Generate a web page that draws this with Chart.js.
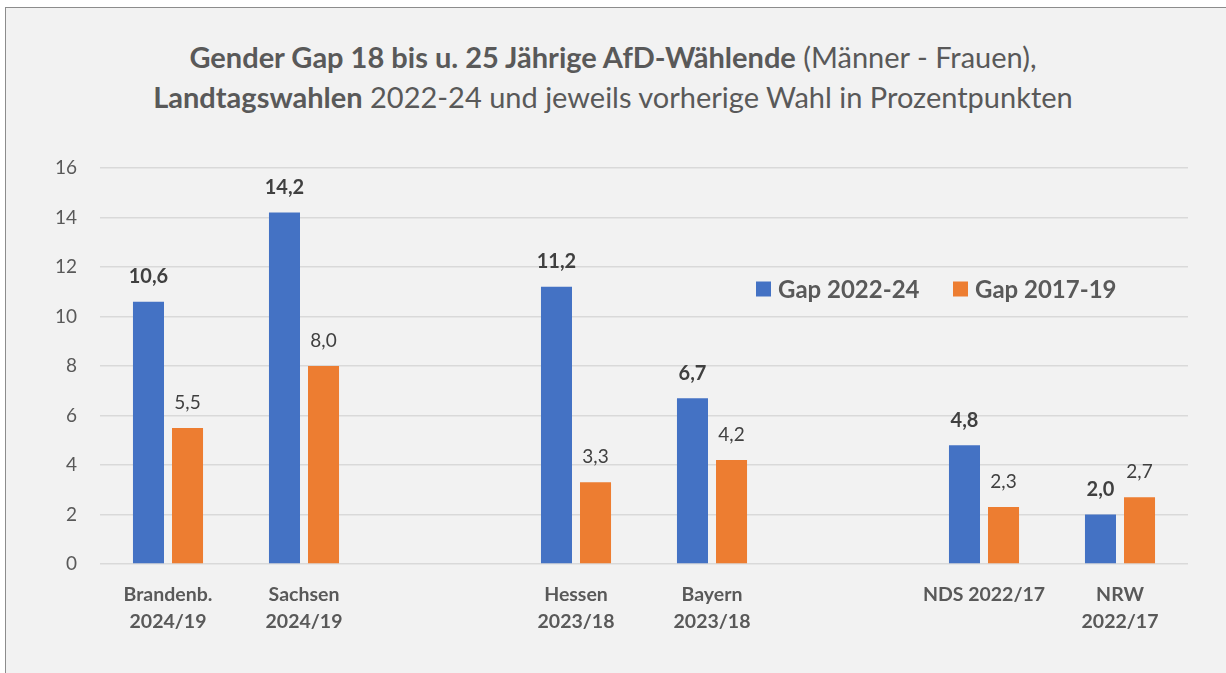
<!DOCTYPE html>
<html><head><meta charset="utf-8">
<script src="https://cdn.jsdelivr.net/npm/chart.js@4.4.1/dist/chart.umd.min.js"></script>
<style>
html,body{margin:0;padding:0;background:#fff;}
#panel{position:absolute;left:5px;top:7px;width:1225px;height:670px;background:#f2f2f2;border-left:1.5px solid #8c8c8c;border-top:1.5px solid #8c8c8c;}
#title{position:absolute;left:0;top:37px;width:1226px;text-align:center;font-family:Lato,sans-serif;font-size:29px;line-height:40px;color:#595959;}
#title b{font-weight:700;}
#wrap{position:absolute;left:0;top:0;width:1226px;height:673px;}
</style></head>
<body>
<div id="panel"></div>
<div id="title"><b>Gender Gap 18 bis u. 25 Jährige AfD-Wählende</b> (Männer - Frauen),<br><b>Landtagswahlen</b> 2022-24 und jeweils vorherige Wahl in Prozentpunkten</div>
<div id="wrap"><canvas id="c" width="1226" height="673"></canvas></div>
<script>
const categories = [['Brandenb.','2024/19'],['Sachsen','2024/19'],'',['Hessen','2023/18'],['Bayern','2023/18'],'',['NDS 2022/17'],['NRW','2022/17']];
const gap2022_24 = [10.6, 14.2, null, 11.2, 6.7, null, 4.8, 2.0];
const gap2017_19 = [5.5, 8.0, null, 3.3, 4.2, null, 2.3, 2.7];
const seriesNames = ['Gap 2022-24', 'Gap 2017-19'];
const yTicks = [0, 2, 4, 6, 8, 10, 12, 14, 16];

const FONT = 'Lato, sans-serif';
const TXT = '#595959';

const labelPlugin = {
  id: 'valLabels',
  afterDatasetsDraw(chart) {
    const ctx = chart.ctx;
    ctx.save();
    ctx.textAlign = 'center';
    ctx.textBaseline = 'middle';
    chart.data.datasets.forEach((ds, di) => {
      const meta = chart.getDatasetMeta(di);
      ctx.font = (di === 0 ? '700 20px ' : '400 19px ') + FONT;
      ctx.fillStyle = '#404040';
      meta.data.forEach((bar, i) => {
        const v = ds.data[i];
        if (v === null || v === undefined) return;
        ctx.fillText(v.toFixed(1).replace('.', ','), bar.x, bar.y - 25);
      });
    });
    ctx.restore();
  }
};

const legendPlugin = {
  id: 'customLegend',
  afterDraw(chart) {
    const ctx = chart.ctx;
    ctx.save();
    ctx.font = '700 24px ' + FONT;
    ctx.textBaseline = 'middle';
    const y = 289;
    let x = 756;
    chart.data.datasets.forEach((ds, di) => {
      ctx.fillStyle = ds.backgroundColor;
      ctx.fillRect(x, y - 7.5, 15, 15);
      ctx.fillStyle = TXT;
      ctx.textAlign = 'left';
      ctx.fillText(ds.label, x + 22, y + 1);
      x += 197;
    });
    ctx.restore();
  }
};

new Chart(document.getElementById('c'), {
  type: 'bar',
  data: {
    labels: categories,
    datasets: [
      {label: seriesNames[0], data: gap2022_24, backgroundColor: '#4472C4', categoryPercentage: 0.574, barPercentage: 0.795},
      {label: seriesNames[1], data: gap2017_19, backgroundColor: '#ED7D31', categoryPercentage: 0.574, barPercentage: 0.795}
    ]
  },
  options: {
    responsive: false,
    animation: false,
    layout: {padding: {left: 0, right: 38, top: 168, bottom: 0}},
    plugins: {legend: {display: false}, title: {display: false}, tooltip: {enabled: false}},
    scales: {
      x: {
        grid: {display: false},
        border: {display: false},
        ticks: {color: TXT, font: {family: FONT, size: 19.5, weight: '700', lineHeight: 1.4}, padding: 9, maxRotation: 0, autoSkip: false},
        afterFit(s) { s.height = 109; }
      },
      y: {
        min: 0, max: 16,
        afterBuildTicks(s) { s.ticks = yTicks.map(v => ({value: v})); },
        grid: {color: '#d9d9d9', lineWidth: 1.5, drawTicks: false},
        border: {display: false},
        ticks: {color: TXT, font: {family: FONT, size: 19}, padding: 23},
        afterFit(s) { s.width = 100; }
      }
    }
  },
  plugins: [labelPlugin, legendPlugin]
});
</script>
</body></html>
